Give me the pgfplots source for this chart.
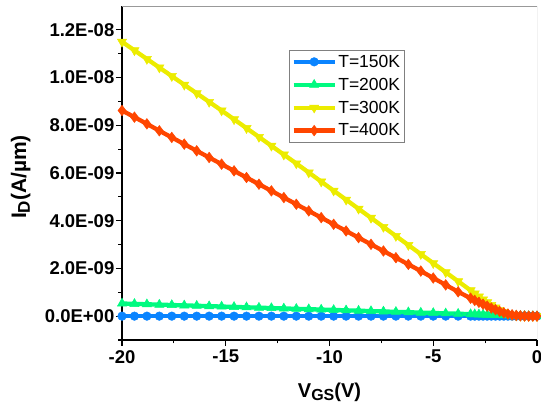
\documentclass[border=0pt]{standalone}
\usepackage{pgfplots}
\usepackage{pgfplotstable}
\usepackage{fontspec}
\setmainfont{Liberation Sans}
\pgfplotsset{compat=1.18}

\definecolor{cblue}{RGB}{10,132,255}
\definecolor{cgreen}{RGB}{0,250,128}
\definecolor{cyellow}{RGB}{236,236,0}
\definecolor{cred}{RGB}{255,70,0}

% Drain current (A/um) versus gate voltage (V) at four temperatures
\pgfplotstableread{
V     I150   I200      I300      I400
-20   0      0.530e-9  11.50e-9  8.62e-9
-19.4 0      0.514e-9  11.14e-9  8.34e-9
-18.8 0      0.498e-9  10.78e-9  8.06e-9
-18.2 0      0.482e-9  10.42e-9  7.77e-9
-17.6 0      0.466e-9  10.06e-9  7.49e-9
-17.0 0      0.451e-9  9.70e-9   7.21e-9
-16.4 0      0.435e-9  9.34e-9   6.93e-9
-15.8 0      0.419e-9  8.98e-9   6.65e-9
-15.2 0      0.403e-9  8.62e-9   6.37e-9
-14.6 0      0.387e-9  8.25e-9   6.09e-9
-14.0 0      0.371e-9  7.88e-9   5.81e-9
-13.4 0      0.355e-9  7.51e-9   5.53e-9
-12.8 0      0.339e-9  7.14e-9   5.25e-9
-12.2 0      0.323e-9  6.77e-9   4.97e-9
-11.6 0      0.307e-9  6.40e-9   4.69e-9
-11.0 0      0.292e-9  6.02e-9   4.41e-9
-10.4 0      0.276e-9  5.64e-9   4.13e-9
-9.8  0      0.260e-9  5.26e-9   3.85e-9
-9.2  0      0.244e-9  4.88e-9   3.57e-9
-8.6  0      0.228e-9  4.50e-9   3.29e-9
-8.0  0      0.212e-9  4.12e-9   3.01e-9
-7.4  0      0.196e-9  3.74e-9   2.73e-9
-6.8  0      0.180e-9  3.36e-9   2.45e-9
-6.2  0      0.164e-9  2.98e-9   2.17e-9
-5.6  0      0.148e-9  2.60e-9   1.89e-9
-5.0  0      0.133e-9  2.22e-9   1.60e-9
-4.4  0      0.117e-9  1.84e-9   1.31e-9
-3.8  0      0.101e-9  1.46e-9   1.02e-9
-3.2  0      0.085e-9  1.08e-9   0.75e-9
-3.0  0      0.079e-9  0.95e-9   0.66e-9
-2.8  0      0.074e-9  0.82e-9   0.58e-9
-2.6  0      0.069e-9  0.70e-9   0.50e-9
-2.4  0      0.063e-9  0.58e-9   0.42e-9
-2.2  0      0.058e-9  0.47e-9   0.34e-9
-2.0  0      0.052e-9  0.36e-9   0.27e-9
-1.8  0      0.047e-9  0.25e-9   0.20e-9
-1.6  0      0.041e-9  0.17e-9   0.14e-9
-1.4  0      0.035e-9  0.10e-9   0.09e-9
-1.2  0      0.030e-9  0.055e-9  0.055e-9
-1.0  0      0.024e-9  0.025e-9  0.030e-9
-0.8  0      0.018e-9  0.010e-9  0.015e-9
-0.6  0      0.012e-9  0.004e-9  0.007e-9
-0.4  0      0.007e-9  0.001e-9  0.003e-9
-0.2  0      0.003e-9  0         0.001e-9
0.0   0      0         0         0
}\idvg

\begin{document}
\begin{tikzpicture}[x=1pt,y=1pt]
\begin{axis}[
  at={(0,0)}, anchor=south west,
  scale only axis,
  width=415pt, height=334pt,
  xmin=-20, xmax=0,
  ymin=-1e-9, ymax=1.3e-8,
  axis x line*=bottom, axis y line*=left,
  axis line style={-, black, line width=1.3pt},
  tick align=outside,
  major tick length=6pt, minor tick length=3.5pt,
  every tick/.style={black, line width=1.1pt},
  xtick={-20,-15,-10,-5,0},
  xticklabels={-20,-15,-10,-5,0},
  minor xtick={-17.5,-12.5,-7.5,-2.5},
  ytick={0,2e-9,4e-9,6e-9,8e-9,1e-8,1.2e-8},
  yticklabels={0.0E+00,2.0E-09,4.0E-09,6.0E-09,8.0E-09,1.0E-08,1.2E-08},
  minor ytick={-1e-9,1e-9,3e-9,5e-9,7e-9,9e-9,1.1e-8},
  scaled y ticks=false,
  ticklabel style={font=\bfseries\fontsize{18.5}{19}\selectfont},
  yticklabel style={inner sep=1.5pt},
  xticklabel style={inner sep=4pt},
  xlabel={\bfseries\fontsize{20}{21}\selectfont V\raisebox{-0.35ex}{\fontsize{16}{16}\selectfont GS}(V)},
  ylabel={\bfseries\fontsize{21}{22}\selectfont I\raisebox{-0.35ex}{\fontsize{17}{17}\selectfont D}(A/µm)},
  xlabel style={at={(rel axis cs:0.5,0)}, anchor=north, yshift=-39pt},
  ylabel style={at={(rel axis cs:0,0.5)}, anchor=south, xshift=-4pt, yshift=88pt},
  legend style={at={(0.4015,0.868)}, anchor=north west, draw=gray, line width=0.8pt,
    font=\fontsize{17.5}{17.5}\selectfont, inner sep=2.5pt,
    nodes={inner xsep=1.5pt},
    row sep=5.2pt, fill=white},
  legend cell align=left,
  legend image code/.code={%
    \draw[mark repeat=2,mark phase=2] plot coordinates {(0pt,0pt) (20.5pt,0pt) (41pt,0pt)};},
  every axis plot/.append style={line width=4.3pt},
]
\addplot[cblue, mark=*, mark size=4.3pt, mark options={solid, line width=0.5pt, fill=cblue}]
  table[x=V, y=I150] {\idvg};
\addlegendentry{T=150K}
\addplot[cgreen, mark=triangle*, mark size=5.3pt, mark options={solid, line width=0.5pt, fill=cgreen}]
  table[x=V, y=I200] {\idvg};
\addlegendentry{T=200K}
\addplot[cyellow, mark=triangle*, mark size=5.3pt, mark options={solid, rotate=180, line width=0.5pt, fill=cyellow}]
  table[x=V, y=I300] {\idvg};
\addlegendentry{T=300K}
\addplot[cred, mark=diamond*, mark size=5.3pt, mark options={solid, line width=0.5pt, fill=cred}]
  table[x=V, y=I400] {\idvg};
\addlegendentry{T=400K}
% thin grey frame on the top and right sides
\draw[gray!80, line width=0.8pt] (rel axis cs:0,1) -- (rel axis cs:1,1) -- (rel axis cs:1,0);
\end{axis}
\pgfresetboundingbox
\useasboundingbox (-122pt,-69pt) rectangle (419pt,340pt);
\end{tikzpicture}
\end{document}
